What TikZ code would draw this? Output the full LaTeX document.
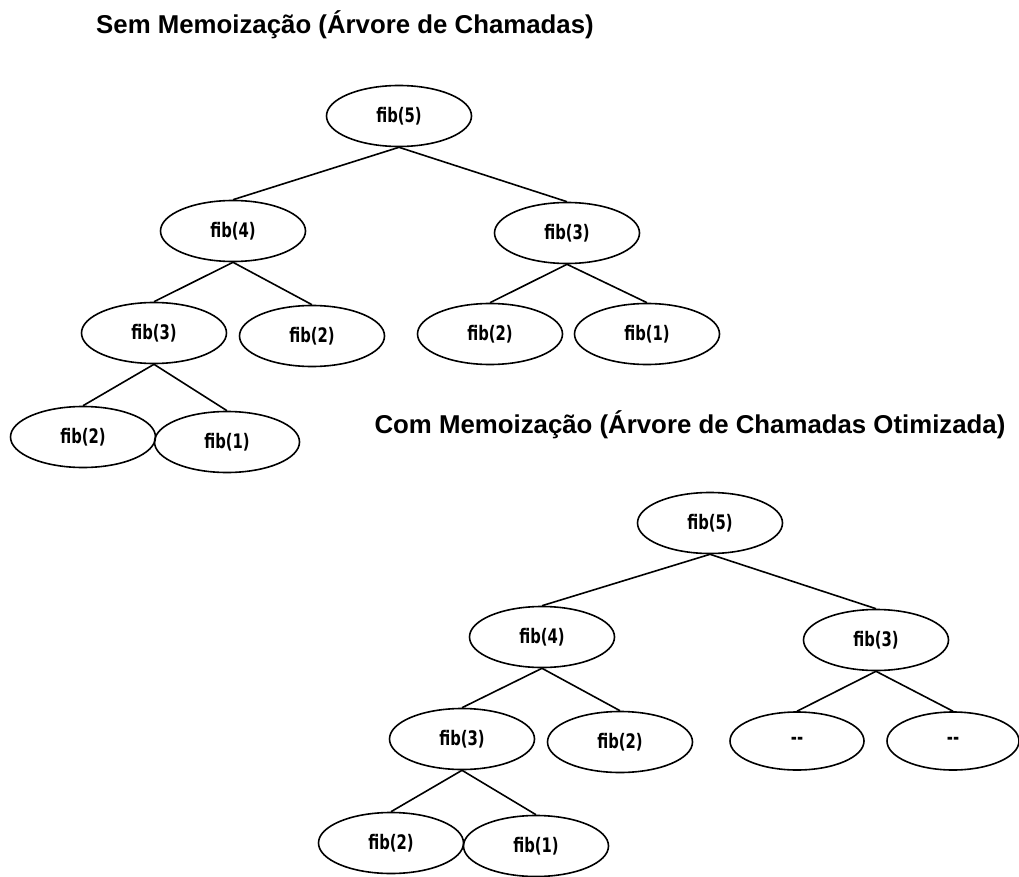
\documentclass[tikz,border=0pt]{standalone}
\usepackage{fontspec}
\setmainfont{Liberation Sans}
\newfontfamily\callfont[FakeStretch=0.74]{DejaVu Sans}
\usetikzlibrary{shapes.geometric}

\tikzset{
  call/.style={draw=black, line width=1.6pt, ellipse, inner sep=0pt,
    minimum width=145pt, minimum height=61pt,
    font=\callfont\bfseries\fontsize{20}{22}\selectfont},
  stub/.style={call, minimum width=134pt, minimum height=58pt},
  edge/.style={draw=black, line width=1.6pt},
  heading/.style={anchor=base, inner sep=0pt,
    font=\bfseries\fontsize{25.8}{28}\selectfont}
}

\begin{document}
\begin{tikzpicture}[x=1pt, y=-1pt]
\useasboundingbox (0,0) rectangle (1019,877);

% plain recursion
\node[heading] (t1) at (345,34) {Sem Memoização (Árvore de Chamadas)};
\node[call] (a5)  at (399,116) {fib(5)};
\node[call] (a4)  at (233,231) {fib(4)};
\node[call] (a3r) at (567,233) {fib(3)};
\node[call] (a3)  at (154,333) {fib(3)};
\node[call] (a2)  at (312,336) {fib(2)};
\node[call] (a2r) at (490,334) {fib(2)};
\node[call] (a1r) at (647,334) {fib(1)};
\node[call] (a2b) at (83,437)  {fib(2)};
\node[call] (a1b) at (227,442) {fib(1)};

\draw[edge] (a5.south) -- (a4.north);
\draw[edge] (a5.south) -- (a3r.north);
\draw[edge] (a4.south) -- (a3.north);
\draw[edge] (a4.south) -- (a2.north);
\draw[edge] (a3r.south) -- (a2r.north);
\draw[edge] (a3r.south) -- (a1r.north);
\draw[edge] (a3.south) -- (a2b.north);
\draw[edge] (a3.south) -- (a1b.north);

% memoized recursion
\node[heading] (t2) at (690,433) {Com Memoização (Árvore de Chamadas Otimizada)};
\node[call] (b5)  at (710,523) {fib(5)};
\node[call] (b4)  at (542,637) {fib(4)};
\node[call] (b3r) at (876,640) {fib(3)};
\node[call] (b3)  at (462,739) {fib(3)};
\node[call] (b2)  at (620,742) {fib(2)};
\node[stub] (bs1) at (797,741) {--};
\node[stub, minimum width=132pt] (bs2) at (953,741) {--};
\node[call] (b2b) at (391,843) {fib(2)};
\node[call] (b1b) at (536,846) {fib(1)};

\draw[edge] (b5.south) -- (b4.north);
\draw[edge] (b5.south) -- (b3r.north);
\draw[edge] (b4.south) -- (b3.north);
\draw[edge] (b4.south) -- (b2.north);
\draw[edge] (b3r.south) -- (bs1.north);
\draw[edge] (b3r.south) -- (bs2.north);
\draw[edge] (b3.south) -- (b2b.north);
\draw[edge] (b3.south) -- (b1b.north);
\end{tikzpicture}
\end{document}
